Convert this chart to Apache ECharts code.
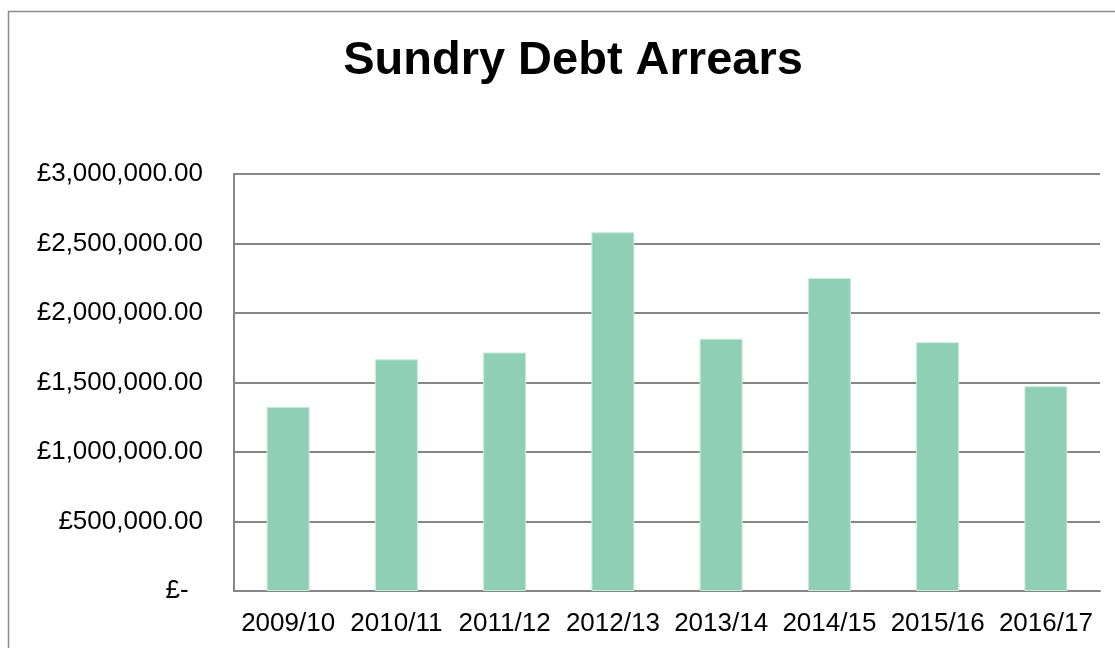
<!DOCTYPE html>
<html>
<head>
<meta charset="utf-8">
<script src="https://cdn.jsdelivr.net/npm/echarts@6/dist/echarts.min.js"></script>
<style>
  html, body { margin: 0; padding: 0; background: #fff; }
  #chart { width: 1115px; height: 648px; }
</style>
</head>
<body>
<div id="chart"></div>
<script>
// Sundry debt arrears by financial year
const years = ['2009/10', '2010/11', '2011/12', '2012/13', '2013/14', '2014/15', '2015/16', '2016/17']
const arrears = [1325000, 1667000, 1716000, 2581000, 1815000, 2252000, 1790000, 1473000]

const chart = echarts.init(document.getElementById('chart'))

function money (v) {
  if (v === 0) return '£-  '
  return '£' + v.toLocaleString('en-GB', { minimumFractionDigits: 2, maximumFractionDigits: 2 })
}

const option = {
  backgroundColor: '#fff',
  animation: false,
  graphic: [
    {
      type: 'rect',
      shape: { x: 8.5, y: 11.5, width: 1200, height: 700 },
      style: { fill: 'none', stroke: '#8c8c8c', lineWidth: 1.5 }
    }
  ],
  title: {
    text: 'Sundry Debt Arrears',
    left: 568,
    textAlign: 'center',
    top: 33,
    textStyle: {
      fontFamily: '"Liberation Sans", Arial, sans-serif',
      fontSize: 47,
      fontWeight: 'bold',
      color: '#000'
    }
  },
  grid: {
    left: 234,
    top: 174,
    right: 15,
    bottom: 57
  },
  xAxis: {
    type: 'category',
    data: years,
    axisLine: { lineStyle: { color: '#868686', width: 2 } },
    axisTick: { show: false },
    axisLabel: {
      color: '#000',
      fontFamily: '"Liberation Sans", Arial, sans-serif',
      fontSize: 26,
      margin: 20,
      interval: 0
    }
  },
  yAxis: {
    type: 'value',
    min: 0,
    max: 3000000,
    interval: 500000,
    axisLine: { show: true, lineStyle: { color: '#868686', width: 2 } },
    axisTick: { show: false },
    splitLine: { lineStyle: { color: '#868686', width: 2 } },
    axisLabel: {
      color: '#000',
      fontFamily: '"Liberation Sans", Arial, sans-serif',
      fontSize: 26,
      margin: 31,
      formatter: money
    }
  },
  series: [
    {
      type: 'bar',
      data: arrears,
      barWidth: 43,
      itemStyle: {
        color: '#8ecfb5',
        borderColor: '#c8ebdc',
        borderWidth: 1
      }
    }
  ]
}

chart.setOption(option)
</script>
</body>
</html>
